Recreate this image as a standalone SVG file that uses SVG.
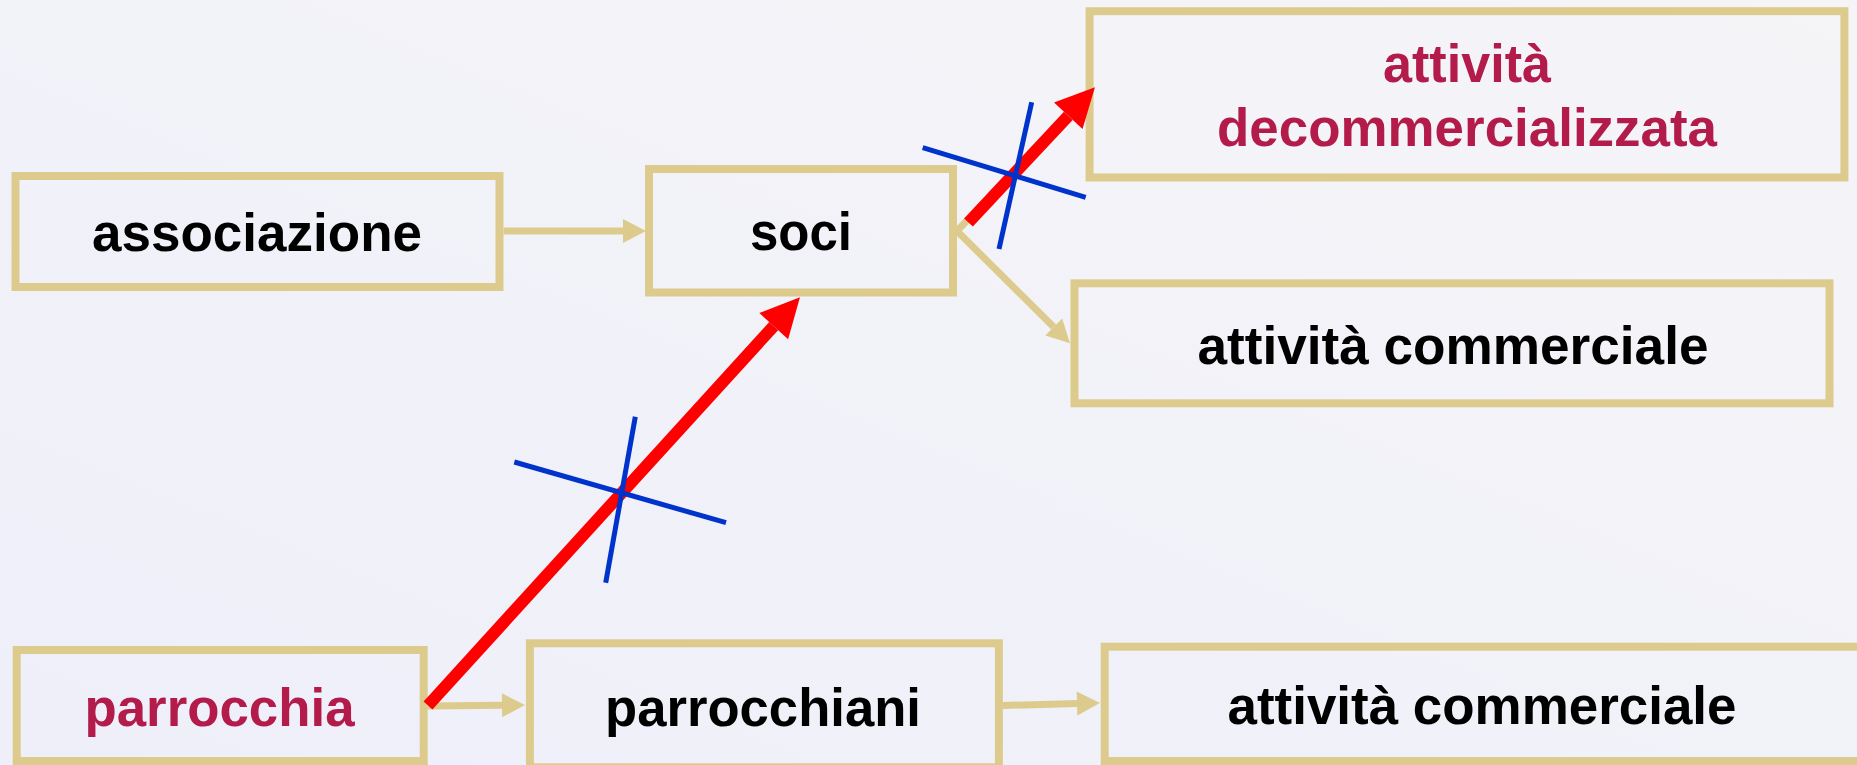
<svg xmlns="http://www.w3.org/2000/svg" width="1857" height="765" viewBox="0 0 1857 765">
  <defs>
    <linearGradient id="bg" x1="0" y1="1" x2="1" y2="0">
      <stop offset="0" stop-color="#EEEFF9"/>
      <stop offset="1" stop-color="#F5F5F8"/>
    </linearGradient>
    <marker id="tanHead" viewBox="0 -12 23 24" markerWidth="23" markerHeight="24" refX="0" refY="0" orient="auto" markerUnits="userSpaceOnUse" overflow="visible">
      <path d="M0,-12 L23,0 L0,12 Z" fill="#DDCB8D"/>
    </marker>
    <marker id="redHead" viewBox="0 -19.5 39 39" markerWidth="39" markerHeight="39" refX="0" refY="0" orient="auto" markerUnits="userSpaceOnUse" overflow="visible">
      <path d="M0,-19.5 L39,0 L0,19.5 Z" fill="#FF0000"/>
    </marker>
  </defs>
  <style>
    .box { fill: none; stroke: #DDCB8D; stroke-width: 8; }
    .lbl { font-family: "Liberation Sans", Arial, sans-serif; font-weight: bold; font-size: 54px; text-anchor: middle; fill: #000000; }
    .red-txt { fill: #B31B4A; }
    .tan { stroke: #DDCB8D; stroke-width: 7; fill: none; }
    .red { stroke: #FF0000; stroke-width: 12; fill: none; }
    .blue { stroke: #0033CC; stroke-width: 5; fill: none; }
  </style>
  <rect x="0" y="0" width="1857" height="765" fill="url(#bg)"/>

  <g id="node-associazione">
    <rect class="box" x="15.5" y="176" width="484" height="111"/>
    <text class="lbl" x="257" y="251" textLength="330" lengthAdjust="spacingAndGlyphs">associazione</text>
  </g>
  <g id="node-soci">
    <rect class="box" x="649" y="169" width="304" height="123.5"/>
    <text class="lbl" x="801" y="250" textLength="102" lengthAdjust="spacingAndGlyphs">soci</text>
  </g>
  <g id="node-decommercializzata">
    <rect class="box" x="1089.6" y="11.2" width="754.8" height="166.3"/>
    <text class="lbl red-txt" x="1467" y="82" textLength="168" lengthAdjust="spacingAndGlyphs">attività</text>
    <text class="lbl red-txt" x="1467" y="146" textLength="500" lengthAdjust="spacingAndGlyphs">decommercializzata</text>
  </g>
  <g id="node-commerciale-soci">
    <rect class="box" x="1074.5" y="283.3" width="755" height="120"/>
    <text class="lbl" x="1453" y="363.5" textLength="511" lengthAdjust="spacingAndGlyphs">attività commerciale</text>
  </g>
  <g id="node-parrocchia">
    <rect class="box" x="16.7" y="650" width="407" height="111"/>
    <text class="lbl red-txt" x="219.5" y="726" textLength="270" lengthAdjust="spacingAndGlyphs">parrocchia</text>
  </g>
  <g id="node-parrocchiani">
    <rect class="box" x="529.9" y="643.3" width="469" height="124"/>
    <text class="lbl" x="763" y="726" textLength="316" lengthAdjust="spacingAndGlyphs">parrocchiani</text>
  </g>
  <g id="node-commerciale-parrocchiani">
    <rect class="box" x="1104.7" y="646.7" width="1754.3" height="114.3"/>
    <text class="lbl" x="1482" y="723.5" textLength="509" lengthAdjust="spacingAndGlyphs">attività commerciale</text>
  </g>

  <g id="connectors">
    <line class="tan" x1="503.6" y1="231" x2="623" y2="231" marker-end="url(#tanHead)"/>
    <line class="tan" x1="957" y1="231" x2="1053.7" y2="327.1" marker-end="url(#tanHead)"/>
    <line class="tan" x1="957" y1="231" x2="1000" y2="186"/>
    <line class="tan" x1="427.7" y1="706" x2="502" y2="705.3" marker-end="url(#tanHead)"/>
    <line class="tan" x1="1002.7" y1="705.5" x2="1077" y2="703.5" marker-end="url(#tanHead)"/>
    <line class="red" x1="428" y1="705.5" x2="773.7" y2="326.1" marker-end="url(#redHead)"/>
    <line class="red" x1="968.5" y1="222.5" x2="1068.3" y2="115.8" marker-end="url(#redHead)"/>
    <line class="blue" x1="514.3" y1="462" x2="726" y2="522.7"/>
    <line class="blue" x1="635.3" y1="416.7" x2="605.7" y2="582.7"/>
    <line class="blue" x1="922.7" y1="147.7" x2="1085.7" y2="197.3"/>
    <line class="blue" x1="1031.7" y1="102.3" x2="999" y2="249"/>
  </g>
</svg>
